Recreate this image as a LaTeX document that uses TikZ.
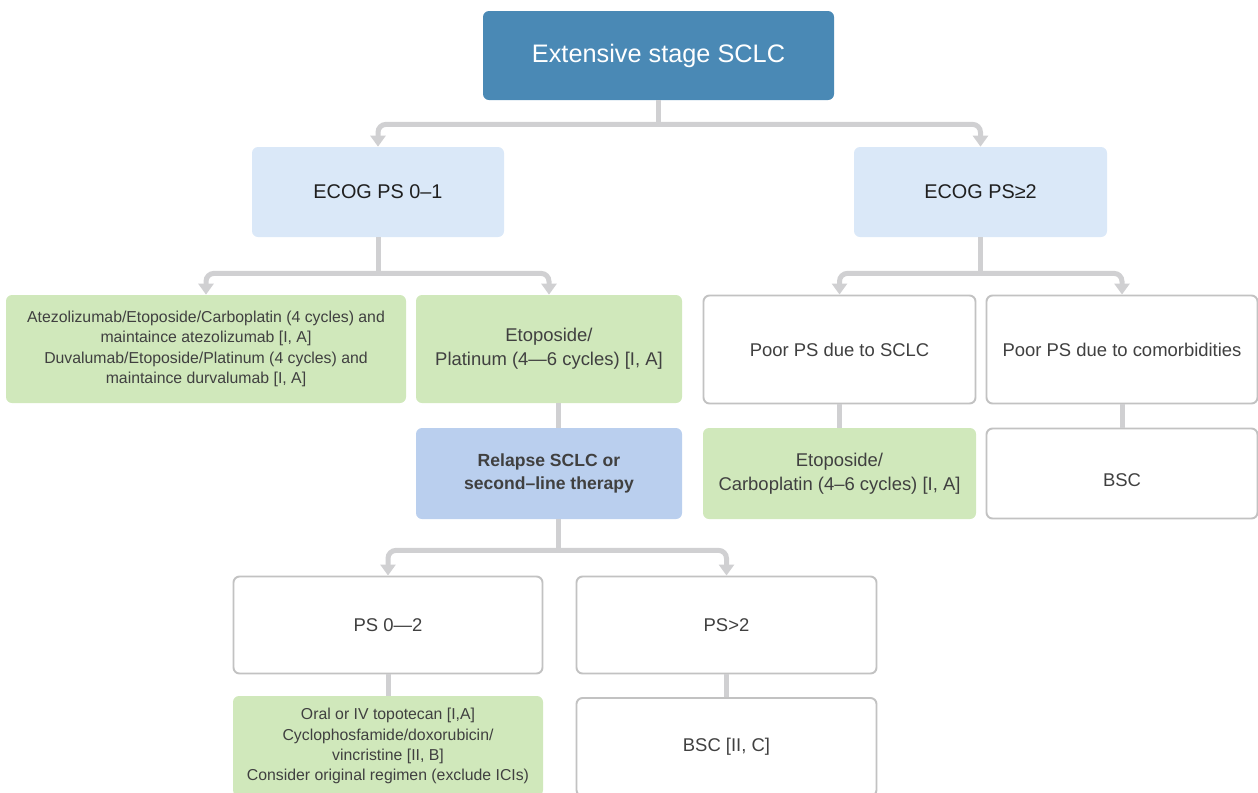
\documentclass[tikz,border=0pt]{standalone}
\usepackage{fontspec}
\setmainfont{Liberation Sans}
\usetikzlibrary{arrows.meta}

\newlength{\px}
\setlength{\px}{0.02cm}

\definecolor{topblue}{HTML}{4A89B5}
\definecolor{paleblue}{HTML}{DAE8F8}
\definecolor{midblue}{HTML}{BACFEE}
\definecolor{palegreen}{HTML}{D0E8BB}
\definecolor{linegray}{HTML}{D0D0D2}
\definecolor{edgegray}{HTML}{C2C2C2}
\definecolor{txtgray}{HTML}{404040}

\begin{document}
\begin{tikzpicture}[x=0.02cm,y=-0.02cm,
  >={Triangle[width=0.3cm,length=0.22cm]},
  box/.style={rectangle,rounded corners=6\px,inner sep=0pt,align=center,
    text=txtgray,font=\fontsize{10.5}{13.6}\selectfont},
  head box/.style={box,fill=topblue,text=white,font=\fontsize{14.4}{17}\selectfont},
  ps box/.style={box,fill=paleblue,text=black!88,font=\fontsize{11.3}{14}\selectfont},
  green box/.style={box,fill=palegreen},
  white box/.style={box,draw=edgegray,line width=1.1pt,fill=white},
  relapse box/.style={box,fill=midblue,font=\fontsize{10}{13.6}\selectfont\bfseries},
  small text/.style={font=\fontsize{9}{11.5}\selectfont},
  link/.style={draw=linegray,line width=0.1cm,rounded corners=0.16cm}]

  \useasboundingbox (0,0) rectangle (1258,792);

  % first row
  \node[head box,minimum width=351\px,minimum height=89\px] (stage) at (658.5,55.5) {Extensive stage SCLC};

  \node[ps box,minimum width=252\px,minimum height=90\px] (ecog01) at (378,192) {ECOG PS 0–1};
  \node[ps box,minimum width=253\px,minimum height=90\px] (ecog2) at (980.5,192) {ECOG PS≥2};

  % treatments and status
  \node[green box,small text,minimum width=400\px,minimum height=108\px] (atezo) at (206,349)
    {Atezolizumab/Etoposide/Carboplatin (4 cycles) and\\maintaince atezolizumab [I, A]\\
     Duvalumab/Etoposide/Platinum (4 cycles) and\\maintaince durvalumab [I, A]};
  \node[green box,minimum width=266\px,minimum height=108\px] (etoplat) at (549,349)
    {Etoposide/\\Platinum (4—6 cycles) [I, A]};
  \node[white box,minimum width=272\px,minimum height=108\px] (poorsclc) at (839.5,349.5)
    {Poor PS due to SCLC};
  \node[white box,minimum width=271\px,minimum height=108\px] (poorcomo) at (1122,349.5)
    {Poor PS due to comorbidities};

  \node[relapse box,minimum width=266\px,minimum height=91\px] (relapse) at (549,473.5)
    {Relapse SCLC or\\second–line therapy};
  \node[green box,minimum width=273\px,minimum height=91\px] (etocarb) at (839.5,473.5)
    {Etoposide/\\Carboplatin (4–6 cycles) [I, A]};
  \node[white box,minimum width=271\px,minimum height=90\px,text height=26\px,text depth=0pt] (bsc)
    at (1122,473.5) {BSC};

  % second line
  \node[white box,minimum width=309\px,minimum height=97\px] (ps02) at (388,625) {PS 0—2};
  \node[white box,minimum width=300\px,minimum height=97\px] (psover2) at (726.5,625) {PS>2};

  \node[green box,small text,minimum width=310\px,minimum height=100\px] (oral) at (388,746)
    {Oral or IV topotecan [I,A]\\Cyclophosfamide/doxorubicin/\\vincristine [II, B]\\
     Consider original regimen (exclude ICIs)};
  \node[white box,minimum width=300\px,minimum height=98\px] (bscc) at (726.5,747) {BSC [II, C]};

  % forks
  \coordinate (fork1) at ([yshift=-24\px]stage.south);
  \coordinate (fork2) at ([yshift=-36\px]ecog01.south);
  \coordinate (fork3) at ([yshift=-36\px]ecog2.south);
  \coordinate (fork4) at ([xshift=9\px,yshift=-31\px]relapse.south);

  \draw[link] (stage.south) -- (fork1);
  \draw[link,<->] (ecog01.north) |- (fork1) -| (ecog2.north);

  \draw[link] (ecog01.south) -- (fork2);
  \draw[link,<->] (atezo.north) |- (fork2) -| (etoplat.north);

  \draw[link] (ecog2.south) -- (fork3);
  \draw[link,<->] (poorsclc.north) |- (fork3) -| (poorcomo.north);

  \draw[link] ([xshift=9\px]relapse.south) -- (fork4);
  \draw[link,<->] (ps02.north) |- (fork4) -| (psover2.north);

  % plain links
  \draw[link] ([xshift=9\px]etoplat.south) -- ([xshift=9\px]relapse.north);
  \draw[link] (poorsclc.south) -- (etocarb.north);
  \draw[link] (poorcomo.south) -- (bsc.north);
  \draw[link] (ps02.south) -- (oral.north);
  \draw[link] (psover2.south) -- (bscc.north);

\end{tikzpicture}
\end{document}
